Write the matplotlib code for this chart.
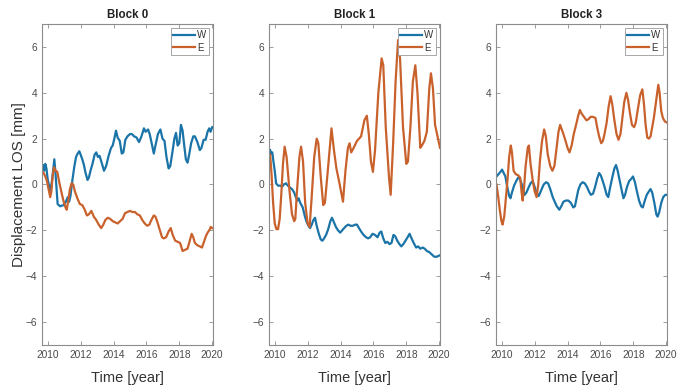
import matplotlib
matplotlib.use('Agg')
import matplotlib.pyplot as plt

plt.rcParams['font.family'] = ['Liberation Sans', 'DejaVu Sans']

# Block 0
t_w0 = [2009.65, 2009.72, 2009.78, 2009.85, 2009.92, 2010.0, 2010.1, 2010.18, 2010.28, 2010.4,
        2010.47, 2010.6, 2010.75, 2010.95, 2011.1, 2011.22, 2011.3, 2011.38, 2011.5, 2011.62,
        2011.72, 2011.82, 2011.92, 2012.0, 2012.1, 2012.2, 2012.3, 2012.42, 2012.5, 2012.6,
        2012.72, 2012.85, 2012.95, 2013.05, 2013.15, 2013.3, 2013.42, 2013.55, 2013.7, 2013.85,
        2013.95, 2014.05, 2014.15, 2014.25, 2014.38, 2014.5, 2014.6, 2014.72, 2014.85, 2015.0,
        2015.12, 2015.25, 2015.4, 2015.55, 2015.7, 2015.85, 2015.95, 2016.1, 2016.2, 2016.35,
        2016.45, 2016.55, 2016.7, 2016.85, 2016.98, 2017.1, 2017.22, 2017.35, 2017.45, 2017.58,
        2017.7, 2017.8, 2017.9, 2018.0, 2018.1, 2018.2, 2018.3, 2018.4, 2018.5, 2018.6,
        2018.72, 2018.85, 2018.95, 2019.1, 2019.25, 2019.35, 2019.48, 2019.6, 2019.72, 2019.82,
        2019.9, 2020.0]
d_w0 = [0.75, 0.85, 0.6, 0.9, 0.7, 0.2, -0.1, -0.25, 0.3, 1.1,
        0.5, -0.85, -0.95, -0.9, -0.75, -0.55, -0.75, -0.5, 0.2, 0.8,
        1.2, 1.35, 1.45, 1.3, 1.1, 0.85, 0.5, 0.2, 0.3, 0.6,
        0.9, 1.3, 1.4, 1.2, 1.25, 0.9, 0.6, 0.8, 1.25, 1.6,
        1.7, 2.0, 2.35, 2.05, 1.9, 1.35, 1.4, 1.95, 2.1, 2.2,
        2.2, 2.1, 2.05, 1.85, 2.1, 2.45, 2.3, 2.4, 2.2, 1.7,
        1.35, 1.7, 2.2, 2.4, 2.0, 1.9, 1.2, 0.7, 0.8, 1.4,
        2.0, 2.25, 1.7, 1.8, 2.6, 2.35, 1.7, 1.1, 0.95, 1.3,
        1.8, 2.1, 2.1, 1.85, 1.5, 1.6, 1.95, 1.95, 2.3, 2.45,
        2.3, 2.5]

t_e0 = [2009.65, 2009.75, 2009.85, 2009.95, 2010.05, 2010.15, 2010.22, 2010.3, 2010.38, 2010.48,
        2010.58, 2010.7, 2010.82, 2010.95, 2011.08, 2011.15, 2011.25, 2011.35, 2011.45, 2011.55,
        2011.65, 2011.8, 2011.95, 2012.1, 2012.25, 2012.38, 2012.5, 2012.65, 2012.8, 2012.95,
        2013.1, 2013.25, 2013.38, 2013.5, 2013.65, 2013.8, 2013.95, 2014.1, 2014.25, 2014.4,
        2014.55, 2014.7, 2014.85, 2015.0, 2015.15, 2015.3, 2015.45, 2015.6, 2015.75, 2015.9,
        2016.05, 2016.18, 2016.3, 2016.45, 2016.55, 2016.65, 2016.8, 2016.95, 2017.05, 2017.2,
        2017.35, 2017.48, 2017.6, 2017.75, 2017.9, 2018.05, 2018.2, 2018.35, 2018.5, 2018.62,
        2018.75, 2018.85, 2018.95, 2019.1, 2019.25, 2019.38, 2019.5, 2019.62, 2019.72, 2019.82,
        2019.92, 2020.0]
d_e0 = [0.6, 0.5, 0.35, 0.15, -0.2, -0.55, -0.3, 0.4, 0.75, 0.6,
        0.55, 0.1, -0.3, -0.7, -1.0, -1.1, -0.7, -0.2, 0.05, 0.0,
        -0.3, -0.6, -0.85, -0.9, -1.1, -1.35, -1.3, -1.15, -1.4, -1.55,
        -1.75, -1.9, -1.75, -1.55, -1.45, -1.5, -1.6, -1.65, -1.7, -1.6,
        -1.5, -1.25, -1.2, -1.15, -1.2, -1.2, -1.3, -1.35, -1.55, -1.7,
        -1.8, -1.75, -1.55, -1.35, -1.4, -1.6, -1.95, -2.3, -2.35, -2.3,
        -2.05, -1.9, -2.2, -2.45, -2.5, -2.55, -2.9, -2.85, -2.8, -2.5,
        -2.15, -2.3, -2.55, -2.65, -2.7, -2.75, -2.5, -2.25, -2.1, -2.0,
        -1.85, -1.9]

# Block 1
t_w1 = [2009.72, 2009.78, 2009.85, 2009.92, 2010.0, 2010.08, 2010.2, 2010.35, 2010.45, 2010.55,
        2010.68, 2010.8, 2010.95, 2011.05, 2011.18, 2011.28, 2011.38, 2011.45, 2011.55, 2011.7,
        2011.82, 2011.92, 2012.05, 2012.15, 2012.25, 2012.35, 2012.45, 2012.55, 2012.68, 2012.8,
        2012.9, 2013.0, 2013.12, 2013.25, 2013.38, 2013.48, 2013.6, 2013.72, 2013.85, 2013.98,
        2014.1, 2014.22, 2014.35, 2014.48, 2014.6, 2014.75, 2014.9, 2015.0, 2015.12, 2015.25,
        2015.4, 2015.55, 2015.68, 2015.8, 2015.95, 2016.1, 2016.25, 2016.38, 2016.48, 2016.6,
        2016.72, 2016.85, 2016.98, 2017.1, 2017.22, 2017.32, 2017.45, 2017.58, 2017.7, 2017.82,
        2017.95, 2018.08, 2018.2, 2018.32, 2018.45, 2018.6, 2018.72, 2018.85, 2019.0, 2019.12,
        2019.25, 2019.4, 2019.55, 2019.7, 2019.85, 2020.0]
d_w1 = [1.5, 1.35, 1.4, 1.0, 0.6, 0.05, -0.05, -0.05, -0.1, 0.0,
        0.05, -0.05, -0.15, -0.2, -0.35, -0.55, -0.7, -0.6, -0.8, -1.0,
        -1.35, -1.6, -1.8, -1.9, -1.75, -1.55, -1.45, -1.8, -2.15, -2.4,
        -2.45, -2.35, -2.2, -1.95, -1.6, -1.45, -1.65, -1.85, -2.0, -2.1,
        -2.0, -1.9, -1.8, -1.75, -1.8, -1.8, -1.75, -1.75, -1.9, -2.05,
        -2.2, -2.3, -2.35, -2.3, -2.15, -2.2, -2.3, -2.1, -2.05, -2.35,
        -2.55, -2.5, -2.6, -2.55, -2.2, -2.25, -2.45, -2.6, -2.7, -2.6,
        -2.45, -2.3, -2.15, -2.35, -2.55, -2.75, -2.7, -2.8, -2.75, -2.8,
        -2.9, -2.95, -3.05, -3.15, -3.15, -3.1]

t_e1 = [2009.72, 2009.8, 2009.9, 2010.0, 2010.1, 2010.2, 2010.3, 2010.4, 2010.5, 2010.6,
        2010.72, 2010.9, 2011.05, 2011.18, 2011.25, 2011.35, 2011.5, 2011.6, 2011.72, 2011.85,
        2012.0, 2012.12, 2012.25, 2012.4, 2012.55, 2012.65, 2012.8, 2012.95, 2013.05, 2013.25,
        2013.45, 2013.6, 2013.75, 2013.95, 2014.15, 2014.3, 2014.45, 2014.55, 2014.65, 2014.8,
        2015.0, 2015.25, 2015.45, 2015.6, 2015.72, 2015.85, 2015.97, 2016.1, 2016.3, 2016.5,
        2016.6, 2016.75, 2016.95, 2017.05, 2017.2, 2017.35, 2017.5, 2017.62, 2017.8, 2018.0,
        2018.1, 2018.25, 2018.4, 2018.55, 2018.68, 2018.85, 2018.95, 2019.1, 2019.25, 2019.4,
        2019.5, 2019.62, 2019.75, 2019.9, 2020.05]
d_e1 = [1.3, 0.5, -0.8, -1.7, -1.95, -1.95, -1.5, -0.4, 0.9, 1.65,
        1.2, -0.3, -1.3, -1.6, -1.5, -0.3, 1.2, 1.65, 1.0, -0.8,
        -1.7, -1.85, -0.5, 1.2, 2.0, 1.8, 0.3, -0.9, -0.8, 0.8,
        2.45, 1.5, 0.7, 0.0, -0.75, 0.6, 1.6, 1.8, 1.4, 1.6,
        1.9, 2.1, 2.8, 3.0, 2.2, 1.0, 0.55, 1.5, 4.0, 5.5,
        5.2, 2.5, 0.3, -0.45, 1.8, 4.5, 6.3, 5.5, 2.5, 0.9,
        1.0, 2.5, 4.5, 5.2, 4.0, 1.6, 1.7, 1.9, 2.3, 4.2,
        4.85, 4.2, 2.6, 2.1, 1.6]

# Block 3
t_w3 = [2009.68, 2009.8, 2009.92, 2010.02, 2010.12, 2010.22, 2010.32, 2010.45, 2010.53, 2010.62,
        2010.75, 2010.88, 2011.0, 2011.1, 2011.2, 2011.3, 2011.4, 2011.5, 2011.62, 2011.75,
        2011.88, 2012.0, 2012.1, 2012.25, 2012.4, 2012.55, 2012.7, 2012.82, 2012.95, 2013.1,
        2013.22, 2013.35, 2013.5, 2013.62, 2013.75, 2013.9, 2014.05, 2014.2, 2014.35, 2014.45,
        2014.55, 2014.65, 2014.78, 2014.92, 2015.05, 2015.18, 2015.3, 2015.42, 2015.55, 2015.68,
        2015.8, 2015.92, 2016.02, 2016.12, 2016.25, 2016.38, 2016.48, 2016.6, 2016.72, 2016.85,
        2016.95, 2017.05, 2017.15, 2017.28, 2017.4, 2017.5, 2017.62, 2017.75, 2017.88, 2017.98,
        2018.1, 2018.22, 2018.35, 2018.48, 2018.58, 2018.7, 2018.82, 2018.95, 2019.05, 2019.15,
        2019.28, 2019.4, 2019.48, 2019.58, 2019.7, 2019.82, 2019.95, 2020.05]
d_w3 = [0.35, 0.45, 0.55, 0.65, 0.5, 0.35, -0.05, -0.5, -0.6, -0.35,
        -0.05, 0.15, 0.3, 0.25, 0.05, -0.25, -0.45, -0.35, -0.15, 0.05,
        0.15, -0.1, -0.35, -0.5, -0.25, 0.0, 0.1, 0.05, -0.2, -0.55,
        -0.75, -0.95, -1.1, -0.95, -0.75, -0.7, -0.7, -0.8, -1.0, -0.95,
        -0.6, -0.25, 0.0, 0.1, 0.05, -0.1, -0.3, -0.45, -0.4, -0.1,
        0.25, 0.5, 0.4, 0.2, -0.1, -0.45, -0.55, -0.1, 0.3, 0.7,
        0.85, 0.6, 0.25, -0.2, -0.6, -0.45, -0.1, 0.15, 0.25, 0.35,
        0.1, -0.3, -0.7, -0.95, -1.0, -0.7, -0.45, -0.3, -0.2, -0.35,
        -0.8, -1.3, -1.4, -1.2, -0.8, -0.55, -0.45, -0.45]

t_e3 = [2009.68, 2009.78, 2009.88, 2009.98, 2010.05, 2010.15, 2010.25, 2010.35, 2010.45, 2010.55,
        2010.62, 2010.72, 2010.85, 2011.0, 2011.12, 2011.2, 2011.27, 2011.35, 2011.45, 2011.58,
        2011.65, 2011.75, 2011.88, 2012.0, 2012.12, 2012.22, 2012.32, 2012.45, 2012.58, 2012.68,
        2012.8, 2012.95, 2013.08, 2013.2, 2013.32, 2013.45, 2013.55, 2013.65, 2013.75, 2013.88,
        2014.0, 2014.12, 2014.25, 2014.38, 2014.52, 2014.65, 2014.75, 2014.85, 2014.95, 2015.05,
        2015.15, 2015.28, 2015.4, 2015.55, 2015.7, 2015.8, 2015.92, 2016.05, 2016.15, 2016.25,
        2016.38, 2016.5, 2016.62, 2016.72, 2016.85, 2016.98, 2017.1, 2017.22, 2017.32, 2017.45,
        2017.58, 2017.68, 2017.8, 2017.92, 2018.05, 2018.15, 2018.28, 2018.42, 2018.55, 2018.65,
        2018.75, 2018.85, 2018.95, 2019.05, 2019.15, 2019.25, 2019.38, 2019.52, 2019.6, 2019.7,
        2019.8, 2019.92, 2020.05]
d_e3 = [0.0, -0.5, -1.1, -1.6, -1.75, -1.4, -0.6, 0.2, 1.2, 1.7,
        1.4, 0.6, 0.45, 0.4, 0.3, -0.3, -0.7, -0.2, 0.8, 1.6,
        1.7, 0.9, 0.2, -0.3, -0.55, 0.0, 1.0, 1.9, 2.4, 2.1,
        1.3, 0.8, 0.6, 0.8, 1.5, 2.3, 2.6, 2.4, 2.2, 1.9,
        1.6, 1.4, 1.7, 2.2, 2.6, 3.0, 3.25, 3.1, 3.0, 2.9,
        2.8, 2.85, 2.95, 2.95, 2.9, 2.5, 2.1, 1.8, 1.9, 2.2,
        2.7, 3.4, 3.85, 3.5, 2.8, 2.2, 1.95, 2.2, 2.8, 3.6,
        4.0, 3.7, 3.1, 2.6, 2.5, 2.7, 3.3, 3.9, 4.15, 3.5,
        2.6, 2.05, 2.0, 2.1, 2.5, 2.9, 3.6, 4.35, 4.0, 3.2,
        2.9, 2.75, 2.7]

titles = ['Block 0', 'Block 1', 'Block 3']
series_w = [(t_w0, d_w0), (t_w1, d_w1), (t_w3, d_w3)]
series_e = [(t_e0, d_e0), (t_e1, d_e1), (t_e3, d_e3)]
year_ticks = [2010, 2012, 2014, 2016, 2018, 2020]
disp_ticks = [-6, -4, -2, 0, 2, 4, 6]

c_w = '#1a74a8'
c_e = '#c9612c'
c_axis = '#8c8c8c'
c_text = '#4a4a4a'

W, H = 679, 392
fig = plt.figure(figsize=(W / 100, H / 100), dpi=100)
lefts = [42, 269, 496]
ax_w, ax_top, ax_bot = 171, 24, 345

for i in range(3):
    ax = fig.add_axes([lefts[i] / W, 1 - ax_bot / H, ax_w / W, (ax_bot - ax_top) / H])
    ax.plot(series_w[i][0], series_w[i][1], color=c_w, lw=1.6, label='W')
    ax.plot(series_e[i][0], series_e[i][1], color=c_e, lw=1.6, label='E')
    ax.set_xlim(2009.65, 2020.05)
    ax.set_ylim(-7, 7)
    ax.set_xticks(year_ticks)
    ax.set_yticks(disp_ticks)
    ax.tick_params(direction='in', top=True, right=True, length=3, width=0.6,
                   colors=c_axis, labelcolor=c_text, labelsize=7.3, pad=3.5)
    for sp in ax.spines.values():
        sp.set_color(c_axis)
        sp.set_linewidth(0.8)
    ax.set_title(titles[i], fontsize=8.3, fontweight='bold', color='#222222', pad=4)
    ax.set_xlabel('Time [year]', fontsize=10.5, color='#333333', labelpad=8)
    leg = ax.legend(loc='upper right', fontsize=7, handlelength=2.3, handletextpad=0.2,
                    borderpad=0.2, labelspacing=0.25, borderaxespad=0.45, fancybox=False,
                    framealpha=1, edgecolor='#999999')
    leg.get_frame().set_linewidth(0.6)
    for txt in leg.get_texts():
        txt.set_color('#333333')
    if i == 0:
        ax.set_ylabel('Displacement LOS [mm]', fontsize=11, color='#333333')
        ax.yaxis.set_label_coords(-0.095, 0.5)

fig.savefig('out.png', dpi=100)
